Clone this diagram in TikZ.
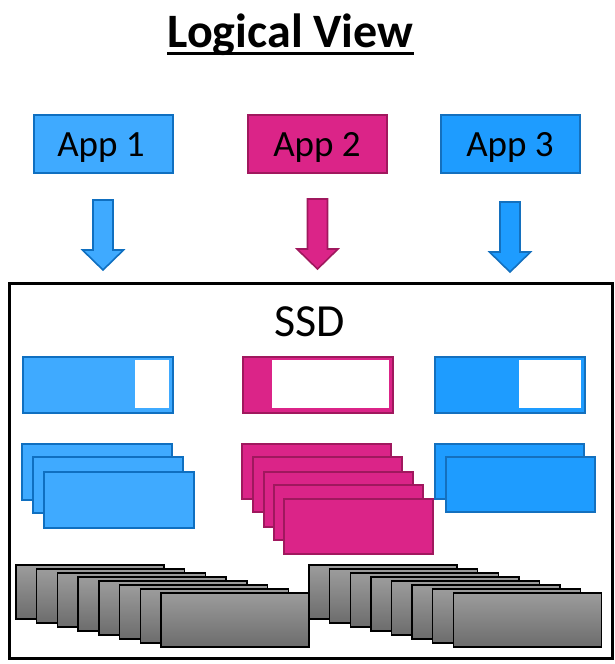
\documentclass[tikz,border=0pt]{standalone}
\usepackage{fontspec}
\setmainfont{Carlito}
\usetikzlibrary{calc}
\definecolor{blueA}{HTML}{3FAAFF}
\definecolor{blueAline}{HTML}{0F6FC0}
\definecolor{blueB}{HTML}{1E9CFF}
\definecolor{blueBline}{HTML}{1470BE}
\definecolor{mag}{HTML}{DB2488}
\definecolor{magline}{HTML}{A0185E}
\definecolor{chipT}{HTML}{9C9C9C}
\definecolor{chipB}{HTML}{6C6C6C}
\begin{document}
\begin{tikzpicture}[x=1pt,y=-1pt,
  appbox/.style={draw, line width=2pt, minimum width=139pt, minimum height=58pt,
    inner sep=0pt, anchor=north west},
  apptext/.style={font=\fontsize{37}{40}\selectfont, inner sep=0pt, anchor=base},
  bluea/.style={fill=blueA, draw=blueAline},
  blueb/.style={fill=blueB, draw=blueBline},
  magenta/.style={fill=mag, draw=magline},
  arrowpart/.style={line width=1.6pt, line join=miter},
  bar/.style={line width=2.4pt},
  block/.style={line width=2.4pt},
  chip/.style={draw=black, line width=1.4pt, top color=chipT, bottom color=chipB},
  pics/downarrow/.style={code={
    \path[pic actions] (-10,0) -- (10,0) -- (10,50) -- (20.5,50) -- (0,70)
      -- (-20.5,50) -- (-10,50) -- cycle;}}]
\useasboundingbox (0,0) rectangle (615,664);

% title
\node[font=\bfseries\fontsize{48}{52}\selectfont, inner sep=0pt, anchor=base]
  (title) at (290.5,47) {Logical View};
\draw[line width=3pt] ([yshift=-6pt]title.base west) -- ([yshift=-6pt]title.base east);

% applications
\node[appbox, bluea] (app1) at (33,114) {};
\node[appbox, magenta] (app2) at (247,114) {};
\node[appbox, blueb] (app3) at (440,114) {};
\node[apptext] (t1) at (101,156) {App 1};
\node[apptext] (t2) at (317,156) {App 2};
\node[apptext] (t3) at (510,156) {App 3};

% block arrows into the drive
\pic[bluea, arrowpart] at ($(app1.south)+(-0.5,26)$) {downarrow};
\pic[magenta, arrowpart] at ($(app2.south)+(0,25)$) {downarrow};
\pic[blueb, arrowpart] at ($(app3.south)+(-0.5,28)$) {downarrow};

% SSD enclosure
\node[draw, line width=3pt, minimum width=603pt, minimum height=375pt,
  anchor=north west, inner sep=0pt] (ssd) at (8,282) {};
\node[font=\fontsize{46}{50}\selectfont, inner sep=0pt, anchor=base] (ssdlabel)
  at (310,336) {SSD};

% usage bars
\node[appbox, bluea, bar, minimum width=150pt, minimum height=56pt] (bar1) at (22,356) {};
\fill[white] (135,360) rectangle (169,408);
\node[appbox, magenta, bar, minimum width=150pt, minimum height=56pt] (bar2) at (242,356) {};
\fill[white] (272,360) rectangle (389,408);
\node[appbox, blueb, bar, minimum width=150pt, minimum height=56pt] (bar3) at (434,356) {};
\fill[white] (519,360) rectangle (581,408);

% allocated blocks per application
\foreach \x/\y in {22/444, 33/457, 44/472}
  \draw[bluea, block] (\x,\y) rectangle ++(150,56);
\foreach \x/\y in {242/444, 253/457, 264/472, 274/485, 284/499}
  \draw[magenta, block] (\x,\y) rectangle ++(149,55);
\foreach \x/\y in {435/444, 446/457}
  \draw[blueb, block] (\x,\y) rectangle ++(149,55);

% flash chips
\foreach \i in {0,...,7}
  \draw[chip] (16+20.7*\i, 565+4*\i) rectangle ++(148,54);
\foreach \i in {0,...,7}
  \draw[chip] (309+20.6*\i, 565+4*\i) rectangle ++(148,54);
\end{tikzpicture}
\end{document}
